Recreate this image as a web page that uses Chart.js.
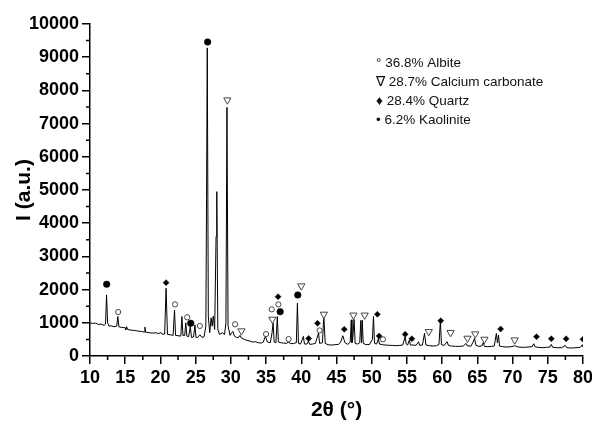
<!DOCTYPE html>
<html>
<head>
<meta charset="utf-8">
<script src="https://cdn.jsdelivr.net/npm/chart.js@4.4.0/dist/chart.umd.min.js"></script>
<style>
  html, body { margin: 0; padding: 0; background: #fff; }
  #wrap { width: 592px; height: 424px; }
</style>
</head>
<body>
<div id="wrap"><canvas id="xrdChart" width="592" height="424"></canvas></div>
<script>
// XRD pattern
const twoTheta = [
  10.0, 10.4, 10.8, 11.2, 11.6, 12.0, 12.2, 12.35, 12.5, 12.7, 13.0, 13.4, 13.8, 13.95, 14.1, 14.5,
  15.0, 15.1, 15.2, 15.35, 15.8, 16.3, 16.8, 17.3, 17.7, 17.8, 17.9, 18.4, 18.9, 19.4, 19.8, 20.0,
  20.2, 20.6, 20.8, 21.0, 21.4, 21.8, 22.0, 22.15, 22.5, 22.9, 23.05, 23.2, 23.45, 23.6, 23.75, 24.0,
  24.25, 24.4, 24.7, 24.9, 25.05, 25.3, 25.6, 25.9, 26.2, 26.45, 26.55, 26.65, 26.8, 27.0, 27.2, 27.35,
  27.5, 27.7, 27.9, 28.0, 28.15, 28.4, 28.8, 29.1, 29.3, 29.45, 29.6, 29.9, 30.1, 30.3, 30.5, 30.8,
  31.1, 31.3, 31.5, 31.9, 32.3, 32.7, 33.1, 33.5, 33.9, 34.3, 34.6, 34.9, 35.2, 35.6, 35.85, 36.0,
  36.15, 36.4, 36.6, 36.75, 37.1, 37.5, 37.9, 38.2, 38.5, 38.9, 39.3, 39.45, 39.6, 39.9, 40.3, 40.45,
  40.8, 41.0, 41.2, 41.6, 42.0, 42.45, 42.6, 43.0, 43.2, 43.4, 43.8, 44.3, 44.8, 45.3, 45.6, 45.9,
  46.2, 46.6, 46.95, 47.1, 47.2, 47.3, 47.5, 47.65, 48.0, 48.3, 48.45, 48.55, 48.65, 48.8, 49.2, 49.7,
  50.1, 50.25, 50.4, 50.7, 50.95, 51.1, 51.5, 52.0, 52.5, 53.0, 53.5, 54.0, 54.4, 54.75, 54.9, 55.1,
  55.35, 55.5, 55.9, 56.3, 56.65, 56.8, 57.2, 57.5, 57.7, 58.2, 58.7, 59.2, 59.55, 59.75, 59.9, 60.3,
  60.7, 60.9, 61.3, 61.9, 62.5, 63.0, 63.4, 63.6, 64.1, 64.4, 64.6, 64.8, 65.2, 65.6, 65.85, 66.0,
  66.5, 67.0, 67.4, 67.7, 67.85, 68.0, 68.15, 68.6, 69.2, 69.8, 70.3, 70.8, 71.5, 72.2, 72.8, 73.0,
  73.2, 73.6, 74.2, 74.8, 75.3, 75.5, 75.7, 76.3, 77.0, 77.5, 77.7, 78.3, 79.0, 79.6, 79.9, 80.0
];
const intensity = [
  1000, 980, 990, 950, 960, 920, 960, 1840, 1000, 900, 910, 880, 900, 1190, 880, 860,
  850, 790, 880, 800, 780, 770, 750, 740, 720, 870, 720, 700, 690, 700, 670, 720,
  660, 660, 2040, 650, 640, 620, 1380, 620, 610, 600, 1190, 620, 620, 1000, 600, 580,
  900, 560, 570, 940, 560, 560, 640, 560, 580, 900, 4750, 9280, 1200, 700, 1150, 900,
  1200, 800, 3600, 4950, 800, 650, 700, 650, 1000, 7490, 900, 620, 700, 740, 600, 560,
  560, 620, 540, 500, 470, 450, 420, 430, 400, 390, 420, 590, 420, 400, 700, 1000,
  420, 400, 1190, 420, 400, 390, 380, 420, 370, 380, 400, 1590, 380, 360, 590, 360,
  360, 450, 350, 360, 380, 690, 380, 400, 1190, 380, 340, 330, 340, 350, 420, 610,
  400, 350, 420, 1090, 400, 500, 1100, 380, 360, 400, 1070, 400, 1080, 380, 340, 350,
  500, 1190, 380, 360, 530, 360, 340, 330, 320, 320, 310, 320, 330, 580, 360, 330,
  480, 330, 330, 320, 430, 320, 330, 683, 330, 310, 300, 310, 350, 1063, 340, 320,
  430, 320, 300, 290, 290, 300, 380, 300, 300, 420, 530, 320, 290, 300, 400, 290,
  280, 290, 300, 683, 400, 633, 300, 280, 270, 280, 310, 270, 260, 270, 280, 370,
  280, 260, 250, 260, 270, 350, 260, 250, 250, 320, 250, 240, 250, 260, 340, 260
];

// phase markers
const albiteX = [14.0, 22.07, 23.8, 25.6, 30.6, 35.0, 35.8, 36.75, 38.2, 42.6, 51.6];
const albiteY = [1325, 1555, 1165, 905, 955, 660, 1405, 1555, 510, 770, 502];
const calciteX = [29.5, 31.5, 35.9, 40.0, 43.2, 47.4, 49.0, 58.1, 61.2, 63.6, 64.7, 66.0, 70.3];
const calciteY = [7710, 755, 1105, 2110, 1256, 1230, 1230, 733, 703, 533, 663, 502, 482];
const quartzX = [20.8, 36.7, 41.05, 42.3, 46.1, 50.8, 51.05, 54.75, 55.7, 59.8, 68.3, 73.4, 75.5, 77.6, 80.0];
const quartzY = [2210, 1786, 530, 985, 804, 1256, 602, 653, 520, 1063, 813, 580, 520, 520, 502];
const kaoliniteX = [12.37, 24.3, 26.7, 37.0, 39.5];
const kaoliniteY = [2160, 985, 9458, 1335, 1837];

const legendLines = ['° 36.8% Albite', '∇ 28.7% Calcium carbonate', '♦ 28.4% Quartz', '• 6.2% Kaolinite'];

const xTicks = [10, 15, 20, 25, 30, 35, 40, 45, 50, 55, 60, 65, 70, 75, 80];
const yTicks = [0, 1000, 2000, 3000, 4000, 5000, 6000, 7000, 8000, 9000, 10000];

const FONT = "'Liberation Sans', Arial, sans-serif";
const pts = (xs, ys) => xs.map((x, i) => ({ x: x, y: ys[i] }));

// minor ticks + text legend
const extras = {
  id: 'extras',
  afterDraw(chart) {
    const ctx = chart.ctx;
    const xs = chart.scales.x, ys = chart.scales.y;
    ctx.save();
    ctx.strokeStyle = '#000';
    ctx.lineWidth = 1.5;
    ctx.beginPath();
    for (let i = 0; i < yTicks.length - 1; i++) {
      const py = ys.getPixelForValue((yTicks[i] + yTicks[i + 1]) / 2);
      ctx.moveTo(xs.left - 4, py);
      ctx.lineTo(xs.left, py);
    }
    for (let i = 0; i < xTicks.length - 1; i++) {
      const px = xs.getPixelForValue((xTicks[i] + xTicks[i + 1]) / 2);
      ctx.moveTo(px, ys.bottom);
      ctx.lineTo(px, ys.bottom + 4);
    }
    ctx.stroke();

    ctx.fillStyle = '#111';
    ctx.font = '13.5px ' + FONT;
    ctx.textBaseline = 'alphabetic';
    legendLines.forEach((t, i) => {
      ctx.fillText(t, 376, 67 + i * 19);
    });
    ctx.restore();
  }
};

new Chart(document.getElementById('xrdChart'), {
  type: 'scatter',
  data: {
    datasets: [
      {
        label: 'pattern',
        data: pts(twoTheta, intensity),
        showLine: true,
        borderColor: '#000',
        borderWidth: 1,
        pointRadius: 0,
        tension: 0,
        order: 5
      },
      {
        label: 'Albite',
        data: pts(albiteX, albiteY),
        pointStyle: 'circle',
        pointRadius: 2.6,
        backgroundColor: '#fff',
        borderColor: '#444',
        borderWidth: 1,
        order: 0
      },
      {
        label: 'Calcium carbonate',
        data: pts(calciteX, calciteY),
        pointStyle: 'triangle',
        rotation: 180,
        pointRadius: 4.2,
        backgroundColor: '#fff',
        borderColor: '#444',
        borderWidth: 1,
        order: 0
      },
      {
        label: 'Quartz',
        data: pts(quartzX, quartzY),
        pointStyle: 'rectRot',
        pointRadius: 3,
        backgroundColor: '#000',
        borderColor: '#000',
        borderWidth: 0.5,
        order: 0
      },
      {
        label: 'Kaolinite',
        data: pts(kaoliniteX, kaoliniteY),
        pointStyle: 'circle',
        pointRadius: 3.3,
        backgroundColor: '#000',
        borderColor: '#000',
        borderWidth: 0.5,
        order: 0
      }
    ]
  },
  options: {
    responsive: false,
    animation: false,
    layout: { padding: { top: 24, right: 9, left: 0, bottom: 0 } },
    plugins: { legend: { display: false }, tooltip: { enabled: false } },
    scales: {
      x: {
        type: 'linear',
        min: 10,
        max: 80,
        afterFit: s => { s.height = 68; s.paddingLeft = 0; s.paddingRight = 0; },
        afterBuildTicks: s => { s.ticks = xTicks.map(v => ({ value: v })); },
        grid: { drawOnChartArea: false, drawTicks: true, tickLength: 8, color: '#000', lineWidth: 1.5 },
        border: { display: true, color: '#000', width: 1.5 },
        ticks: { color: '#000', padding: 3, maxRotation: 0, font: { family: FONT, size: 18, weight: 'bold' }, callback: v => v },
        title: { display: true, text: '2θ (°)', color: '#000', padding: { top: 0, bottom: 1 }, font: { family: FONT, size: 21, weight: 'bold' } }
      },
      y: {
        min: 0,
        max: 10000,
        afterFit: s => { s.width = 90; s.paddingTop = 0; s.paddingBottom = 0; },
        afterBuildTicks: s => { s.ticks = yTicks.map(v => ({ value: v })); },
        grid: { drawOnChartArea: false, drawTicks: true, tickLength: 8, color: '#000', lineWidth: 1.5 },
        border: { display: true, color: '#000', width: 1.5 },
        ticks: { color: '#000', padding: 3, font: { family: FONT, size: 18, weight: 'bold' }, callback: v => v },
        title: { display: true, text: 'I (a.u.)', color: '#000', padding: { top: 12, bottom: 0 }, font: { family: FONT, size: 21, weight: 'bold' } }
      }
    }
  },
  plugins: [extras]
});
</script>
</body>
</html>
